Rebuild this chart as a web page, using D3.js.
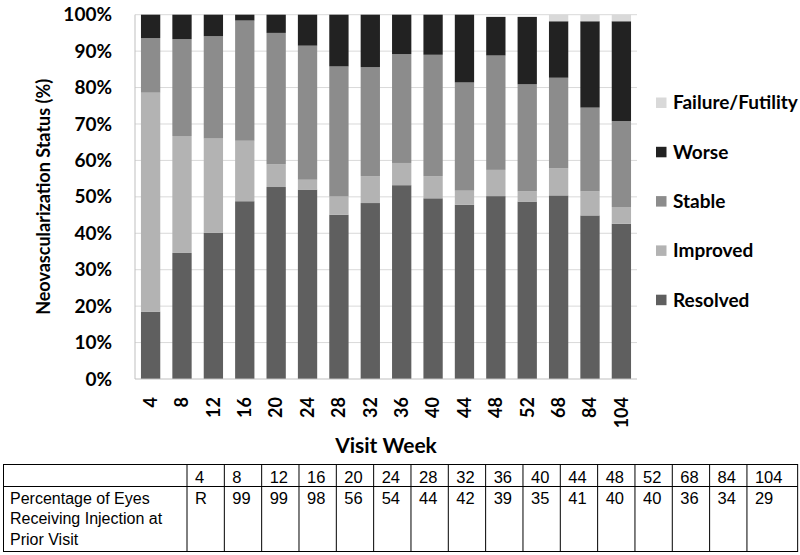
<!DOCTYPE html>
<html>
<head>
<meta charset="utf-8">
<script src="https://cdn.jsdelivr.net/npm/d3@7"></script>
<style>
  body { margin: 0; background: #fff; }
  svg { display: block; }
</style>
</head>
<body>
<div id="chart"></div>
<script>
const weeks = ["4", "8", "12", "16", "20", "24", "28", "32", "36", "40", "44", "48", "52", "68", "84", "104"];
const resolved = [18.5, 34.6, 40.1, 48.8, 52.7, 52.0, 45.1, 48.3, 53.2, 49.6, 47.8, 50.2, 48.7, 50.4, 44.9, 42.6];
const improved = [60.1, 32.1, 25.9, 16.6, 6.2, 2.7, 5.0, 7.4, 6.1, 6.1, 3.9, 7.2, 2.8, 7.5, 6.6, 4.6];
const stable = [15.0, 26.6, 28.1, 33.0, 36.1, 36.8, 35.7, 29.9, 29.9, 33.3, 29.7, 31.4, 29.4, 24.8, 23.0, 23.6];
const worse = [6.4, 6.7, 5.9, 1.6, 5.0, 8.5, 14.2, 14.4, 10.8, 11.0, 18.6, 10.6, 18.5, 15.5, 23.7, 27.4];
const failure = [0, 0, 0, 0, 0, 0, 0, 0, 0, 0, 0, 0, 0, 1.8, 1.8, 1.8];

const seriesKeys = ["Resolved", "Improved", "Stable", "Worse", "Failure/Futility"];
const seriesColors = ["#5f5f5f", "#b3b3b3", "#8c8c8c", "#222222", "#d9d9d9"];
const yTicks = [0, 10, 20, 30, 40, 50, 60, 70, 80, 90, 100];

const tableRowLabel = ["Percentage of Eyes", "Receiving Injection at", "Prior Visit"];
const injectionPct = ["R", "99", "99", "98", "56", "54", "44", "42", "39", "35", "41", "40", "40", "36", "34", "29"];

const width = 800, height = 555;
const margin = { left: 135, right: 163, top: 14.7, bottom: 176 };
const boldFont = "Lato, 'Open Sans', sans-serif";

const svg = d3.select("#chart").append("svg")
  .attr("width", width)
  .attr("height", height);

const rows = weeks.map((w, i) => ({
  week: w,
  "Resolved": resolved[i],
  "Improved": improved[i],
  "Stable": stable[i],
  "Worse": worse[i],
  "Failure/Futility": failure[i],
}));

const stacked = d3.stack().keys(seriesKeys)(rows);

const x = d3.scaleBand()
  .domain(weeks)
  .range([margin.left, width - margin.right])
  .paddingInner(0.385)
  .paddingOuter(0.19);

const y = d3.scaleLinear()
  .domain([0, 100])
  .range([height - margin.bottom, margin.top]);

const color = d3.scaleOrdinal().domain(seriesKeys).range(seriesColors);

// gridlines
svg.append("g")
  .selectAll("line")
  .data(yTicks.slice(1))
  .enter()
  .append("line")
  .attr("x1", margin.left)
  .attr("x2", width - margin.right)
  .attr("y1", d => y(d))
  .attr("y2", d => y(d))
  .attr("stroke", "#d9d9d9")
  .attr("stroke-width", 1);

// bars
svg.append("g")
  .selectAll("g")
  .data(stacked)
  .enter()
  .append("g")
  .attr("fill", d => color(d.key))
  .selectAll("rect")
  .data(d => d)
  .enter()
  .append("rect")
  .attr("x", d => x(d.data.week))
  .attr("y", d => y(d[1]))
  .attr("width", x.bandwidth())
  .attr("height", d => y(d[0]) - y(d[1]));

// axis lines
svg.append("line")
  .attr("x1", margin.left).attr("x2", margin.left)
  .attr("y1", y(100)).attr("y2", y(0))
  .attr("stroke", "#bfbfbf");
svg.append("line")
  .attr("x1", margin.left).attr("x2", width - margin.right)
  .attr("y1", y(0)).attr("y2", y(0))
  .attr("stroke", "#bfbfbf");

// y tick labels
const yAxis = d3.axisLeft(y)
  .tickValues(yTicks)
  .tickSize(0)
  .tickPadding(23)
  .tickFormat(d => d + "%");

svg.append("g")
  .attr("transform", `translate(${margin.left},0)`)
  .call(yAxis)
  .call(g => g.select(".domain").remove())
  .call(g => g.selectAll("text")
    .attr("font-family", boldFont)
    .attr("font-weight", "bold")
    .attr("font-size", 19)
    .attr("fill", "#000"));

// x tick labels (rotated)
const xAxis = d3.axisBottom(x).tickSize(0);
svg.append("g")
  .attr("transform", `translate(0,${y(0)})`)
  .call(xAxis)
  .call(g => g.select(".domain").remove())
  .call(g => g.selectAll("text")
    .attr("font-family", boldFont)
    .attr("font-weight", "bold")
    .attr("font-size", 18)
    .attr("fill", "#000")
    .attr("text-anchor", "end")
    .attr("dy", "0.35em")
    .attr("transform", "translate(0,18) rotate(-90)")
    .attr("y", 0)
    .attr("x", 0));

// axis titles
svg.append("text")
  .attr("transform", `translate(50,${(y(0) + y(100)) / 2}) rotate(-90)`)
  .attr("text-anchor", "middle")
  .attr("font-family", boldFont)
  .attr("font-weight", "bold")
  .attr("font-size", 18)
  .text("Neovascularization Status (%)");

svg.append("text")
  .attr("x", (margin.left + width - margin.right) / 2)
  .attr("y", 453)
  .attr("text-anchor", "middle")
  .attr("font-family", boldFont)
  .attr("font-weight", "bold")
  .attr("font-size", 21)
  .text("Visit Week");

// legend (top to bottom: reverse of stack order)
const legendKeys = seriesKeys.slice().reverse();
const legend = svg.append("g")
  .selectAll("g")
  .data(legendKeys)
  .enter()
  .append("g")
  .attr("transform", (d, i) => `translate(656,${102.5 + i * 49.3})`);

legend.append("rect")
  .attr("x", 0)
  .attr("y", -5)
  .attr("width", 10.5)
  .attr("height", 10.5)
  .attr("fill", d => color(d));

legend.append("text")
  .attr("x", 17)
  .attr("y", 0)
  .attr("dy", "0.36em")
  .attr("font-family", boldFont)
  .attr("font-weight", "bold")
  .attr("font-size", 19)
  .text(d => d);

// table under the chart
const table = { left: 3.5, top: 464.5, mid: 486.5, bottom: 551.5, firstCol: 187, colW: 37.33, lastW: 50.7 };
const colLeft = weeks.map((w, i) => table.firstCol + i * table.colW);
const tableRight = colLeft[colLeft.length - 1] + table.lastW;
const tableFont = "'Liberation Sans', Arial, sans-serif";
const tg = svg.append("g");

tg.append("rect")
  .attr("x", table.left)
  .attr("y", table.top)
  .attr("width", tableRight - table.left)
  .attr("height", table.bottom - table.top)
  .attr("fill", "none")
  .attr("stroke", "#000")
  .attr("stroke-width", 1);

tg.append("line")
  .attr("x1", table.left).attr("x2", tableRight)
  .attr("y1", table.mid).attr("y2", table.mid)
  .attr("stroke", "#000");

tg.selectAll("line.col")
  .data(colLeft)
  .enter()
  .append("line")
  .attr("class", "col")
  .attr("x1", d => d).attr("x2", d => d)
  .attr("y1", table.top).attr("y2", table.bottom)
  .attr("stroke", "#000");

tg.selectAll("text.week")
  .data(weeks)
  .enter()
  .append("text")
  .attr("class", "week")
  .attr("x", (d, i) => colLeft[i] + 8)
  .attr("y", 482.5)
  .attr("font-family", tableFont)
  .attr("font-size", 16.5)
  .text(d => d);

tg.selectAll("text.pct")
  .data(injectionPct)
  .enter()
  .append("text")
  .attr("class", "pct")
  .attr("x", (d, i) => colLeft[i] + 8)
  .attr("y", 504)
  .attr("font-family", tableFont)
  .attr("font-size", 16.5)
  .text(d => d);

tg.selectAll("text.rowlabel")
  .data(tableRowLabel)
  .enter()
  .append("text")
  .attr("class", "rowlabel")
  .attr("x", 10)
  .attr("y", (d, i) => 504 + i * 20.3)
  .attr("font-family", tableFont)
  .attr("font-size", 16)
  .text(d => d);
</script>
</body>
</html>
